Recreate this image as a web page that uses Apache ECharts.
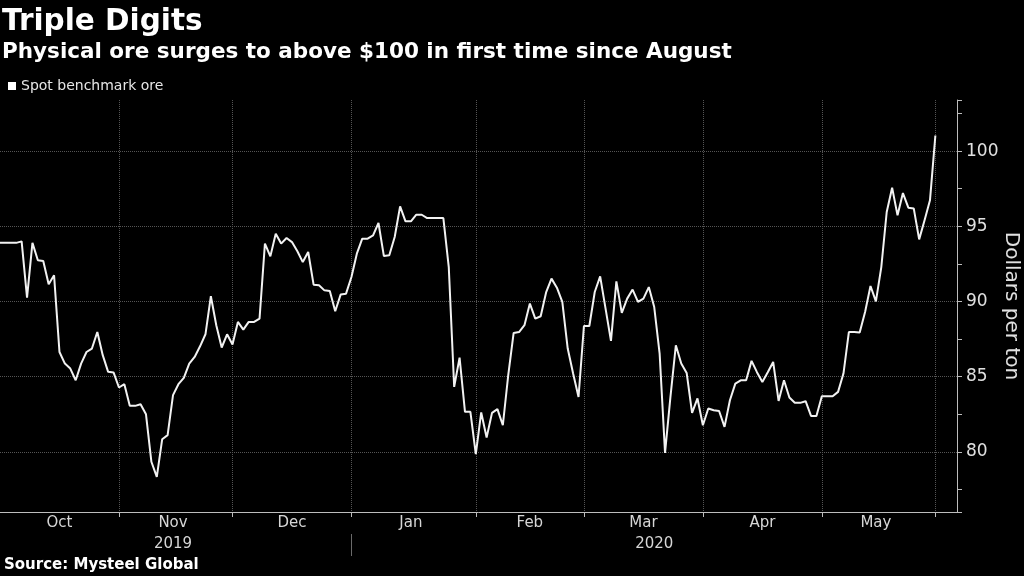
<!DOCTYPE html>
<html>
<head>
<meta charset="utf-8">
<script src="https://cdn.jsdelivr.net/npm/echarts@6/dist/echarts.min.js"></script>
<style>
html,body{margin:0;padding:0;background:#000;}
#chart{width:1024px;height:576px;}
</style>
</head>
<body>
<div id="chart"></div>
<script>
// Trading days shown on the chart (last four are empty padding after the final value)
const dates = [
'2019-10-02','2019-10-03','2019-10-04','2019-10-07','2019-10-08','2019-10-09','2019-10-10','2019-10-11','2019-10-14','2019-10-15','2019-10-16','2019-10-17','2019-10-18','2019-10-21','2019-10-22','2019-10-23','2019-10-24','2019-10-25','2019-10-28','2019-10-29','2019-10-30','2019-10-31',
'2019-11-01','2019-11-04','2019-11-05','2019-11-06','2019-11-07','2019-11-08','2019-11-11','2019-11-12','2019-11-13','2019-11-14','2019-11-15','2019-11-18','2019-11-19','2019-11-20','2019-11-21','2019-11-22','2019-11-25','2019-11-26','2019-11-27','2019-11-28','2019-11-29',
'2019-12-02','2019-12-03','2019-12-04','2019-12-05','2019-12-06','2019-12-09','2019-12-10','2019-12-11','2019-12-12','2019-12-13','2019-12-16','2019-12-17','2019-12-18','2019-12-19','2019-12-20','2019-12-23','2019-12-24','2019-12-25','2019-12-26','2019-12-27','2019-12-30','2019-12-31',
'2020-01-01','2020-01-02','2020-01-03','2020-01-06','2020-01-07','2020-01-08','2020-01-09','2020-01-10','2020-01-13','2020-01-14','2020-01-15','2020-01-16','2020-01-17','2020-01-20','2020-01-21','2020-01-22','2020-01-23','2020-01-24','2020-01-27','2020-01-28','2020-01-29','2020-01-30','2020-01-31',
'2020-02-03','2020-02-04','2020-02-05','2020-02-06','2020-02-07','2020-02-10','2020-02-11','2020-02-12','2020-02-13','2020-02-14','2020-02-17','2020-02-18','2020-02-19','2020-02-20','2020-02-21','2020-02-24','2020-02-25','2020-02-26','2020-02-27','2020-02-28',
'2020-03-02','2020-03-03','2020-03-04','2020-03-05','2020-03-06','2020-03-09','2020-03-10','2020-03-11','2020-03-12','2020-03-13','2020-03-16','2020-03-17','2020-03-18','2020-03-19','2020-03-20','2020-03-23','2020-03-24','2020-03-25','2020-03-26','2020-03-27','2020-03-30','2020-03-31',
'2020-04-01','2020-04-02','2020-04-03','2020-04-06','2020-04-07','2020-04-08','2020-04-09','2020-04-10','2020-04-13','2020-04-14','2020-04-15','2020-04-16','2020-04-17','2020-04-20','2020-04-21','2020-04-22','2020-04-23','2020-04-24','2020-04-27','2020-04-28','2020-04-29','2020-04-30',
'2020-05-01','2020-05-04','2020-05-05','2020-05-06','2020-05-07','2020-05-08','2020-05-11','2020-05-12','2020-05-13','2020-05-14','2020-05-15','2020-05-18','2020-05-19','2020-05-20','2020-05-21','2020-05-22','2020-05-25','2020-05-26','2020-05-27','2020-05-28','2020-05-29',
'2020-06-01','2020-06-02','2020-06-03','2020-06-04','2020-06-05'
];

// Spot benchmark ore, dollars per ton
const spotOre = [
93.9,93.9,93.9,93.9,94.0,90.26,93.9,92.74,92.69,91.14,91.74,86.64,85.87,85.54,84.76,85.87,86.64,86.87,87.97,86.43,85.32,85.28,
84.28,84.5,83.06,83.06,83.17,82.5,79.34,78.34,80.84,81.11,83.77,84.5,84.92,85.87,86.31,87.02,87.82,90.35,88.42,
86.94,87.82,87.14,88.64,88.13,88.64,88.64,88.86,93.85,93.0,94.51,93.85,94.22,93.95,93.34,92.62,93.29,91.12,91.08,90.74,90.70,89.35,90.46,
90.52,91.63,93.18,94.18,94.18,94.4,95.22,93.02,93.07,94.29,96.33,95.33,95.33,95.77,95.77,95.55,95.55,95.55,95.55,92.29,84.32,86.27,82.66,
82.66,79.85,82.62,80.96,82.59,82.84,81.77,85.1,87.91,87.97,88.42,89.86,88.86,89.02,90.6,91.52,90.92,89.97,86.87,85.21,
83.65,88.37,88.37,90.63,91.67,89.53,87.38,91.34,89.24,90.19,90.79,89.97,90.19,90.96,89.63,86.54,79.93,83.65,87.09,85.87,85.25,82.59,
83.55,81.77,82.88,82.77,82.72,81.66,83.43,84.54,84.76,84.76,86.05,85.3,84.65,85.3,85.98,83.39,84.76,83.61,83.26,83.26,83.37,82.39,
82.39,83.70,83.70,83.70,83.99,85.21,87.97,87.97,87.93,89.3,91.03,90.01,92.29,95.95,97.57,95.73,97.21,96.24,96.19,94.13,95.4,96.73,
101.04
];

const monthNames = ['Jan','Feb','Mar','Apr','May','Jun','Jul','Aug','Sep','Oct','Nov','Dec'];
const yLabelValues = [80, 85, 90, 95, 100];

const titleText = 'Triple Digits';
const subtitleText = 'Physical ore surges to above $100 in first time since August';
const sourceText = 'Source: Mysteel Global';
const seriesName = 'Spot benchmark ore';
const axisName = 'Dollars per ton';

// Derived tick / label indices from the category list
const monthStarts = [];
const yearStarts = [];
for (let i = 1; i < dates.length; i++) {
  if (dates[i].slice(0, 7) !== dates[i - 1].slice(0, 7)) monthStarts.push(i);
  if (dates[i].slice(0, 4) !== dates[i - 1].slice(0, 4)) yearStarts.push(i);
}
const monthBounds = [0].concat(monthStarts, [dates.length - 1]);
const monthLabelIdx = new Set();
for (let j = 0; j < monthBounds.length - 1; j++) {
  if (monthBounds[j + 1] - monthBounds[j] >= 10) {
    monthLabelIdx.add(Math.floor((monthBounds[j] + monthBounds[j + 1]) / 2));
  }
}
const yearBounds = [0].concat(yearStarts, [dates.length - 1]);
const yearLabelIdx = new Set();
for (let j = 0; j < yearBounds.length - 1; j++) {
  yearLabelIdx.add(Math.floor((yearBounds[j] + yearBounds[j + 1]) / 2));
}
const monthTickSet = new Set(monthStarts);
const yearTickSet = new Set(yearStarts);

const FONT = 'DejaVu Sans';
const chart = echarts.init(document.getElementById('chart'), null, {renderer: 'canvas'});
chart.setOption({
  backgroundColor: '#000',
  animation: false,
  textStyle: {fontFamily: FONT},
  title: [
    {text: titleText, left: 2, top: 7, padding: 0,
     textStyle: {color: '#fff', fontSize: 29.5, fontWeight: 'bold', fontFamily: FONT}},
    {text: subtitleText, left: 2, top: 41, padding: 0,
     textStyle: {color: '#fff', fontSize: 21.5, fontWeight: 'bold', fontFamily: FONT}},
    {text: sourceText, left: 4, top: 558, padding: 0,
     textStyle: {color: '#fff', fontSize: 15, fontWeight: 'bold', fontFamily: FONT}}
  ],
  legend: {
    left: 8, top: 79, padding: 0, icon: 'rect', itemWidth: 8, itemHeight: 8, itemGap: 10,
    data: [seriesName],
    textStyle: {color: '#e6e6e6', fontSize: 14, fontFamily: FONT}
  },
  grid: {left: 0, right: 67, top: 100, bottom: 64, containLabel: false, outerBoundsMode: 'none'},
  xAxis: [
    {
      type: 'category', data: dates, boundaryGap: false,
      axisLine: {show: true, lineStyle: {color: '#bdbdbd', width: 1}},
      axisTick: {show: true, interval: (i) => monthTickSet.has(i), length: 5, lineStyle: {color: '#bdbdbd'}},
      axisLabel: {
        interval: (i) => monthLabelIdx.has(i),
        formatter: (v) => monthNames[parseInt(v.slice(5, 7), 10) - 1],
        color: '#d6d6d6', fontSize: 15, fontFamily: FONT, margin: 4
      },
      splitLine: {show: true, interval: (i) => monthTickSet.has(i), lineStyle: {color: '#555555', type: 'dotted', width: 1}}
    },
    {
      type: 'category', data: dates, boundaryGap: false, position: 'bottom', offset: 22, gridIndex: 0,
      axisLine: {show: false},
      axisTick: {show: true, interval: (i) => yearTickSet.has(i), length: 22, lineStyle: {color: '#6a6a6a'}},
      axisLabel: {
        interval: (i) => yearLabelIdx.has(i),
        formatter: (v) => v.slice(0, 4),
        color: '#d6d6d6', fontSize: 15, fontFamily: FONT, margin: 3
      },
      splitLine: {show: false}
    }
  ],
  yAxis: {
    type: 'value', position: 'right', min: 76, max: 103.4, splitNumber: 5,
    axisLine: {show: true, lineStyle: {color: '#bdbdbd', width: 1}},
    axisTick: {show: true, length: 5, lineStyle: {color: '#bdbdbd'}},
    minorTick: {show: true, splitNumber: 2, length: 5, lineStyle: {color: '#bdbdbd'}},
    axisLabel: {
      showMinLabel: false, showMaxLabel: false,
      formatter: (v) => (yLabelValues.indexOf(v) >= 0 ? String(v) : ''),
      color: '#e0e0e0', fontSize: 17, fontFamily: FONT, margin: 9
    },
    splitLine: {show: true, showMinLine: false, showMaxLine: false,
      lineStyle: {color: '#555555', type: 'dotted', width: 1}},
    name: axisName, nameLocation: 'middle', nameRotate: -90, nameGap: 44, nameMoveOverlap: false,
    nameTextStyle: {color: '#e0e0e0', fontSize: 20, fontFamily: FONT}
  },
  series: [{
    name: seriesName, type: 'line', data: spotOre, xAxisIndex: 0,
    symbol: 'none', showSymbol: false, smooth: false,
    lineStyle: {color: '#f2f2f2', width: 2},
    itemStyle: {color: '#ffffff'}
  }]
});
</script>
</body>
</html>
